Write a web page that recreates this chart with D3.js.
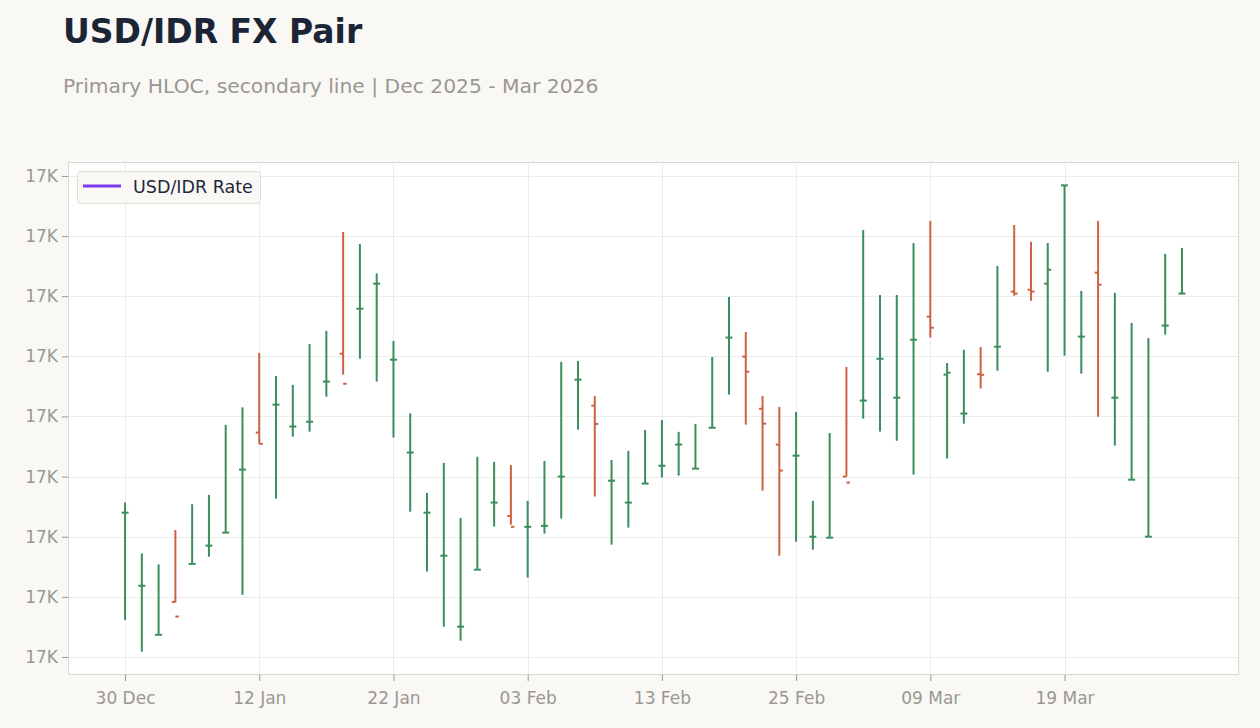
<!DOCTYPE html>
<html>
<head>
<meta charset="utf-8">
<script src="https://cdn.jsdelivr.net/npm/d3@7/dist/d3.min.js"></script>
<style>
  html, body { margin: 0; padding: 0; background: #f9f8f5; }
  svg { display: block; font-family: "DejaVu Sans", sans-serif; }
</style>
</head>
<body>
<svg id="chart" width="1260" height="728"></svg>
<script>
// ---- Data ----
const dates = [
  "2025-12-30","2025-12-31","2026-01-02","2026-01-05","2026-01-06","2026-01-07","2026-01-08","2026-01-09",
  "2026-01-12","2026-01-13","2026-01-14","2026-01-15","2026-01-16","2026-01-19","2026-01-20","2026-01-21",
  "2026-01-22","2026-01-23","2026-01-26","2026-01-27","2026-01-28","2026-01-29","2026-01-30","2026-02-02",
  "2026-02-03","2026-02-04","2026-02-05","2026-02-06","2026-02-09","2026-02-10","2026-02-11","2026-02-12",
  "2026-02-13","2026-02-16","2026-02-17","2026-02-18","2026-02-19","2026-02-20","2026-02-23","2026-02-24",
  "2026-02-25","2026-02-26","2026-02-27","2026-03-02","2026-03-03","2026-03-04","2026-03-05","2026-03-06",
  "2026-03-09","2026-03-10","2026-03-11","2026-03-12","2026-03-13","2026-03-16","2026-03-17","2026-03-18",
  "2026-03-19","2026-03-20","2026-03-23","2026-03-24","2026-03-25","2026-03-26","2026-03-27","2026-03-30"
];
const opens = [
  16710.0,16679.6,16659.2,16672.9,16688.7,16696.3,16701.7,16727.9,
  16743.3,16754.9,16745.8,16747.8,16764.5,16776.1,16794.8,16805.2,
  16773.6,16735.0,16710.0,16692.1,16662.6,16686.3,16714.2,16708.6,
  16704.1,16704.5,16725.0,16765.3,16754.5,16723.3,16714.2,16722.1,
  16729.5,16738.3,16728.3,16745.3,16782.8,16774.9,16753.2,16738.3,
  16733.7,16700.0,16699.6,16725.0,16756.6,16774.0,16757.8,16781.9,
  16791.5,16767.4,16751.2,16767.6,16779.0,16801.9,16802.7,16805.2,
  16846.1,16783.2,16809.8,16757.8,16723.7,16700.0,16787.8,16801.1
];
const highs = [
  16714.2,16693.1,16688.5,16702.8,16713.5,16717.4,16746.5,16753.8,
  16776.4,16766.8,16763.1,16780.1,16785.6,16826.7,16821.7,16809.5,
  16781.4,16751.3,16718.2,16730.7,16707.8,16733.2,16731.1,16729.8,
  16714.9,16731.5,16772.7,16773.1,16758.5,16731.9,16735.7,16744.4,
  16748.5,16743.6,16746.9,16774.7,16799.7,16785.1,16758.5,16754.0,
  16751.9,16714.9,16743.1,16770.6,16827.5,16800.5,16800.5,16822.1,
  16831.3,16772.2,16777.7,16778.9,16812.6,16829.6,16822.6,16822.1,
  16846.1,16802.2,16831.3,16801.4,16788.9,16782.6,16817.6,16820.1
];
const lows = [
  16665.4,16652.2,16659.2,16672.7,16688.7,16691.7,16701.7,16675.8,
  16738.6,16715.8,16741.6,16743.7,16758.2,16767.4,16774.0,16764.5,
  16741.2,16710.4,16685.5,16662.6,16656.8,16686.3,16704.2,16705.0,
  16683.0,16701.3,16707.5,16744.5,16716.7,16696.7,16703.8,16722.1,
  16724.6,16725.4,16728.3,16745.3,16759.1,16746.6,16719.1,16692.1,
  16697.9,16694.6,16699.6,16725.0,16749.1,16743.7,16739.9,16725.8,
  16782.8,16732.5,16747.0,16761.6,16769.0,16800.2,16798.1,16768.6,
  16775.3,16767.8,16749.9,16737.9,16723.7,16700.0,16784.0,16801.1
];
const closes = [
  16710.0,16679.6,16659.2,16666.8,16688.7,16696.3,16701.7,16727.9,
  16738.6,16754.9,16745.8,16747.8,16764.5,16763.6,16794.8,16805.2,
  16773.6,16735.0,16710.0,16692.1,16662.6,16686.3,16714.2,16704.1,
  16704.1,16704.5,16725.0,16765.3,16746.9,16723.3,16714.2,16722.1,
  16729.5,16738.3,16728.3,16745.3,16782.8,16768.6,16747.0,16727.5,
  16733.7,16700.0,16699.6,16722.5,16756.6,16774.0,16757.8,16781.9,
  16786.9,16768.2,16751.2,16767.3,16779.0,16801.1,16801.9,16811.0,
  16846.1,16783.2,16804.8,16757.8,16723.7,16700.0,16787.8,16801.1
];
const yTickValues = [16650,16675,16700,16725,16750,16775,16800,16825,16850];
const xTickIndices = [0,8,16,24,32,40,48,56];
const seriesName = "USD/IDR Rate";
const titleText = "USD/IDR FX Pair";
const subtitleText = "Primary HLOC, secondary line | Dec 2025 - Mar 2026";

// ---- Layout ----
const W = 1260, H = 728;
const plot = { left: 68, right: 1239, top: 162, bottom: 675 };
const upColor = "#3a8d5c", downColor = "#cd6240";

const svg = d3.select("#chart");
const parse = d3.timeParse("%Y-%m-%d");
const fmt = d3.timeFormat("%d %b");
const data = dates.map((d, i) => ({ i, date: parse(d), o: opens[i], h: highs[i], l: lows[i], c: closes[i] }));

const x = d3.scaleLinear().domain([-3.4, data.length - 1 + 3.4]).range([plot.left, plot.right]);
const y = d3.scaleLinear().domain([16642.5, 16855.8]).range([plot.bottom, plot.top]);

// Titles
svg.append("text").attr("x", 63).attr("y", 43)
  .attr("font-size", 33).attr("font-weight", "bold").attr("fill", "#1c2536")
  .text(titleText);
svg.append("text").attr("x", 63).attr("y", 93)
  .attr("font-size", 20.3).attr("fill", "#9a9792")
  .text(subtitleText);

// Plot background
svg.append("rect")
  .attr("x", plot.left).attr("y", plot.top)
  .attr("width", plot.right - plot.left).attr("height", plot.bottom - plot.top)
  .attr("fill", "#ffffff");

// Grid
const grid = svg.append("g").attr("stroke", "#ececec").attr("stroke-width", 1);
grid.selectAll("line.h").data(yTickValues).join("line")
  .attr("x1", plot.left).attr("x2", plot.right)
  .attr("y1", d => Math.round(y(d)) + 0.5).attr("y2", d => Math.round(y(d)) + 0.5);
grid.selectAll("line.v").data(xTickIndices).join("line")
  .attr("y1", plot.top).attr("y2", plot.bottom)
  .attr("x1", d => Math.round(x(d)) + 0.5).attr("x2", d => Math.round(x(d)) + 0.5);

// Border
svg.append("rect")
  .attr("x", plot.left + 0.5).attr("y", plot.top + 0.5)
  .attr("width", plot.right - plot.left - 1).attr("height", plot.bottom - plot.top - 1)
  .attr("fill", "none").attr("stroke", "#ddd8cf").attr("stroke-width", 1);

// Axes
const yAxis = d3.axisLeft(y).tickValues(yTickValues).tickSize(6).tickPadding(4)
  .tickFormat(d => d3.format(".2s")(d).replace("k", "K"));
const gy = svg.append("g").attr("transform", `translate(${plot.left},0)`).call(yAxis);
const xAxis = d3.axisBottom(x).tickValues(xTickIndices).tickSize(6).tickPadding(11)
  .tickFormat(i => fmt(data[i].date));
const gx = svg.append("g").attr("transform", `translate(0,${plot.bottom})`).call(xAxis);
[gx, gy].forEach(g => {
  g.select(".domain").remove();
  g.selectAll(".tick line").attr("stroke", "#9a9792");
  g.selectAll(".tick text").attr("fill", "#9a9792").attr("font-size", 17)
    .attr("font-family", "DejaVu Sans, sans-serif");
});

// OHLC bars
const bars = svg.append("g");
const bar = bars.selectAll("g").data(data).join("g")
  .attr("stroke", d => d.c >= d.o ? upColor : downColor)
  .attr("stroke-width", 2);
bar.append("line")
  .attr("x1", d => x(d.i)).attr("x2", d => x(d.i))
  .attr("y1", d => y(d.h)).attr("y2", d => y(d.l));
bar.append("line")
  .attr("x1", d => x(d.i) - 3.5).attr("x2", d => x(d.i))
  .attr("y1", d => y(d.o)).attr("y2", d => y(d.o));
bar.append("line")
  .attr("x1", d => x(d.i)).attr("x2", d => x(d.i) + 3.5)
  .attr("y1", d => y(d.c)).attr("y2", d => y(d.c));

// Legend
const lg = svg.append("g");
lg.append("rect").attr("x", 77.5).attr("y", 171.5).attr("width", 183).attr("height", 32)
  .attr("rx", 3).attr("fill", "#faf8f5").attr("stroke", "#e2ddd5");
lg.append("line").attr("x1", 83).attr("x2", 121).attr("y1", 186).attr("y2", 186)
  .attr("stroke", "#7c3aed").attr("stroke-width", 3);
lg.append("text").attr("x", 133).attr("y", 193).attr("font-size", 17.5)
  .attr("fill", "#1e293b").text(seriesName);
</script>
</body>
</html>
